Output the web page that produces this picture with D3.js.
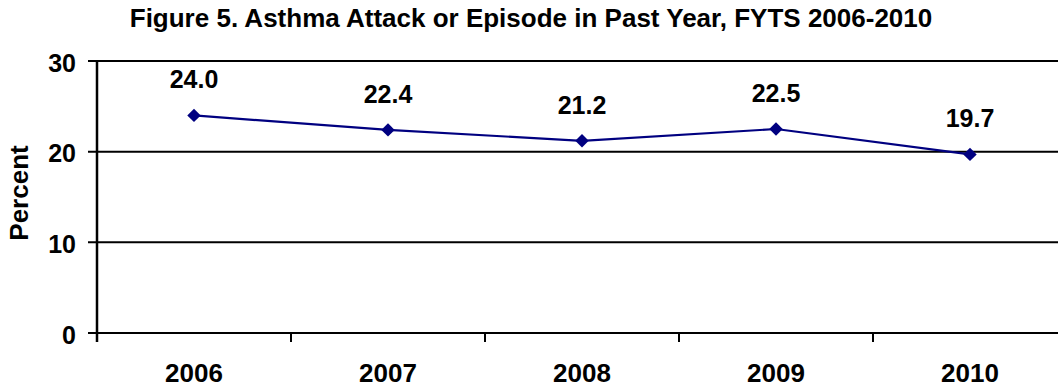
<!DOCTYPE html>
<html>
<head>
<meta charset="utf-8">
<script src="https://cdn.jsdelivr.net/npm/d3@7"></script>
<style>
  body { margin: 0; background: #fff; }
  text { font-family: "Liberation Sans", Arial, sans-serif; font-weight: bold; fill: #000; }
</style>
</head>
<body>
<svg id="chart" width="1058" height="387"></svg>
<script>
var years = ["2006", "2007", "2008", "2009", "2010"];
var percents = [24.0, 22.4, 21.2, 22.5, 19.7];
var yTicks = [0, 10, 20, 30];

var svg = d3.select("#chart");
var margin = {left: 97, right: -9, top: 61, bottom: 54};
var width = 1058 - margin.left - margin.right;
var height = 387 - margin.top - margin.bottom;

var g = svg.append("g").attr("transform", "translate(" + margin.left + "," + margin.top + ")");

var x = d3.scaleBand().domain(years).range([0, width]);
var y = d3.scaleLinear().domain([0, 30]).range([height, 0]);

// gridlines
g.selectAll("line.grid")
  .data(yTicks)
  .enter().append("line")
  .attr("class", "grid")
  .attr("x1", -9).attr("x2", width)
  .attr("y1", function(d) { return y(d); })
  .attr("y2", function(d) { return y(d); })
  .attr("stroke", "#000").attr("stroke-width", 2);

// y axis line
g.append("line")
  .attr("x1", 0).attr("x2", 0)
  .attr("y1", 0).attr("y2", height + 9)
  .attr("stroke", "#000").attr("stroke-width", 2.5);

// x ticks between categories
g.selectAll("line.xtick")
  .data(years.slice(1))
  .enter().append("line")
  .attr("class", "xtick")
  .attr("x1", function(d) { return x(d); })
  .attr("x2", function(d) { return x(d); })
  .attr("y1", height).attr("y2", height + 9)
  .attr("stroke", "#000").attr("stroke-width", 2);

// y tick labels
g.selectAll("text.ytick")
  .data(yTicks)
  .enter().append("text")
  .attr("class", "ytick")
  .attr("x", -21)
  .attr("y", function(d) { return y(d) + 10.5; })
  .attr("text-anchor", "end")
  .style("font-size", "25px")
  .text(function(d) { return d; });

// x labels
g.selectAll("text.xlab")
  .data(years)
  .enter().append("text")
  .attr("class", "xlab")
  .attr("x", function(d) { return x(d) + x.bandwidth() / 2; })
  .attr("y", height + 49)
  .attr("text-anchor", "middle")
  .style("font-size", "26px")
  .text(function(d) { return d; });

var line = d3.line()
  .x(function(d, i) { return x(years[i]) + x.bandwidth() / 2; })
  .y(function(d) { return y(d); });

g.append("path")
  .datum(percents)
  .attr("d", line)
  .attr("fill", "none")
  .attr("stroke", "#000080")
  .attr("stroke-width", 2.2);

g.selectAll("path.pt")
  .data(percents)
  .enter().append("path")
  .attr("class", "pt")
  .attr("d", d3.symbol().type(d3.symbolDiamond2).size(115))
  .attr("transform", function(d, i) {
    return "translate(" + (x(years[i]) + x.bandwidth() / 2) + "," + y(d) + ")";
  })
  .attr("fill", "#000080");

g.selectAll("text.val")
  .data(percents)
  .enter().append("text")
  .attr("class", "val")
  .attr("x", function(d, i) { return x(years[i]) + x.bandwidth() / 2; })
  .attr("y", function(d) { return y(d) - 27; })
  .attr("text-anchor", "middle")
  .style("font-size", "25px")
  .text(function(d) { return d.toFixed(1); });

svg.append("text")
  .attr("x", 531).attr("y", 27)
  .attr("text-anchor", "middle")
  .style("font-size", "26px")
  .text("Figure 5. Asthma Attack or Episode in Past Year, FYTS 2006-2010");

svg.append("text")
  .attr("transform", "translate(28,193) rotate(-90)")
  .attr("text-anchor", "middle")
  .style("font-size", "26px")
  .text("Percent");
</script>
</body>
</html>
